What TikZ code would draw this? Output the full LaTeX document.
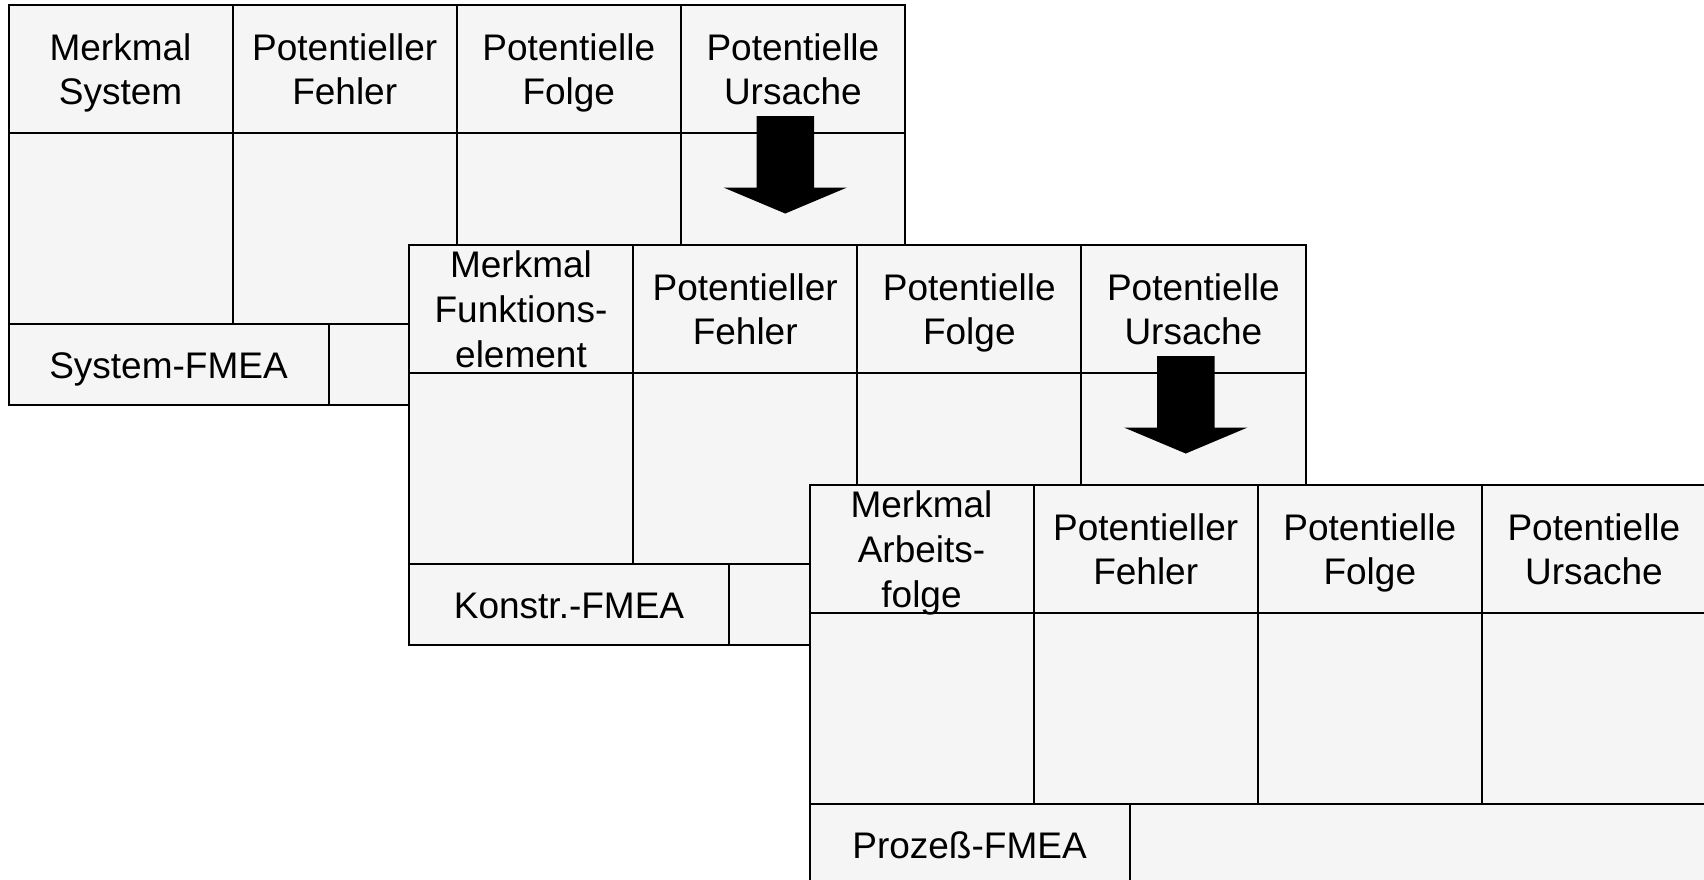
\documentclass[tikz,border=0pt]{standalone}
\usepackage{fontspec}
\setmainfont{Liberation Sans}
\definecolor{cellfill}{RGB}{245,245,245}
\newcommand\tstrut{\rule{0pt}{27pt}}
\newcommand\bstrut{\rule[-8pt]{0pt}{8pt}}
\tikzset{
  tline/.style={draw=black, line width=2pt},
  txt/.style={align=center, inner sep=0pt, font=\fontsize{37}{44.6}\selectfont, text=black},
  bigarrow/.style={fill=black}
}
\newcommand\fmtable[5]{%
\begin{scope}[shift={(#1,#2)}]
  \fill[cellfill] (0,0) rectangle (896.5,400);
  \draw[tline] (0,0) rectangle (896.5,400);
  \draw[tline] (0,128) -- (896.5,128);
  \draw[tline] (0,319) -- (896.5,319);
  \foreach \c in {224.1,448.2,672.4} \draw[tline] (\c,0) -- (\c,319);
  \draw[tline] (320,319) -- (320,400);
  \node[txt] (#3a) at (112,68.5) {\tstrut #4\bstrut};
  \node[txt] (#3b) at (336.2,68.5) {\tstrut Potentieller\\Fehler\bstrut};
  \node[txt] (#3c) at (560.3,68.5) {\tstrut Potentielle\\Folge\bstrut};
  \node[txt] (#3d) at (784.4,68.5) {\tstrut Potentielle\\Ursache\bstrut};
  \node[txt] (#3f) at (160,364) {\tstrut #5\bstrut};
\end{scope}}
\newcommand\fmarrow[2]{%
\begin{scope}[shift={(#1,#2)}]
  \fill[bigarrow] (748,111.5) -- (805.5,111.5) -- (805.5,183) -- (838.5,183)
    -- (776.75,209) -- (715,183) -- (748,183) -- cycle;
\end{scope}}
\begin{document}
\begin{tikzpicture}[x=1pt,y=-1pt]
  \useasboundingbox (0,0) rectangle (1704,879);
  \fill[white] (0,0) rectangle (1704,879);
  \clip (0,0) rectangle (1704,879);
  \fmtable{8.5}{4.5}{s}{Merkmal\\System}{System-FMEA}
  \fmarrow{8.5}{4.5}
  \fmtable{409}{244.5}{k}{Merkmal\\Funktions-\\element}{Konstr.-FMEA}
  \fmarrow{409}{244.5}
  \fmtable{809.5}{484.5}{p}{Merkmal\\Arbeits-\\folge}{Prozeß-FMEA}
\end{tikzpicture}
\end{document}
